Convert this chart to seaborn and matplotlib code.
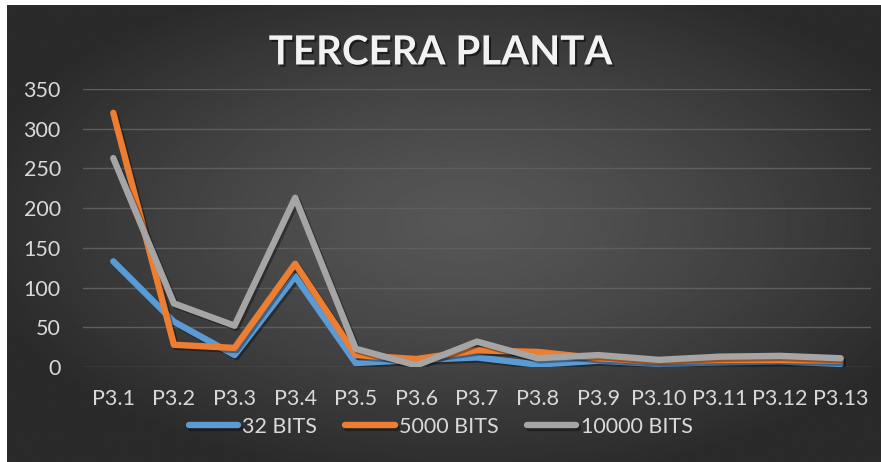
import numpy as np
import pandas as pd
import matplotlib
matplotlib.use("Agg")
import matplotlib.pyplot as plt
import matplotlib.patheffects as pe
import seaborn as sns

# datos
puntos = ['P3.1', 'P3.2', 'P3.3', 'P3.4', 'P3.5', 'P3.6', 'P3.7',
          'P3.8', 'P3.9', 'P3.10', 'P3.11', 'P3.12', 'P3.13']
bits_32 = [133, 57, 15, 114, 5, 9, 12, 3, 8, 4, 6, 7, 4]
bits_5000 = [320, 28, 24, 130, 15, 10, 21, 19, 11, 7, 9, 9, 8]
bits_10000 = [263, 80, 52, 213, 23, 2, 32, 11, 15, 9, 13, 14, 11]
series = ['32 BITS', '5000 BITS', '10000 BITS']
colores = ['#5B9BD5', '#ED7D31', '#A5A5A5']
yticks = [0, 50, 100, 150, 200, 250, 300, 350]

df = pd.DataFrame({
    'punto': puntos * 3,
    'valor': bits_32 + bits_5000 + bits_10000,
    'serie': [series[0]] * 13 + [series[1]] * 13 + [series[2]] * 13,
})

sns.set_style("dark")
plt.rcParams['font.family'] = ['Lato', 'DejaVu Sans']
texto = '#D9D9D9'

fig = plt.figure(figsize=(8.81, 4.62), dpi=100, facecolor='white')

# fondo con degradado radial
bg = fig.add_axes([7 / 881, 0, 1 - 7 / 881, 457 / 462])
yy, xx = np.mgrid[-1:1:300j, -1:1:600j]
r = np.sqrt((xx - 0.05) ** 2 + (yy + 0.05) ** 2)
r = np.clip(r / 1.15, 0, 1)
val = 0.34 - 0.175 * r ** 1.3
bg.imshow(val, cmap='gray', vmin=0, vmax=1, aspect='auto', extent=[0, 1, 0, 1])
bg.set_axis_off()

ax = fig.add_axes([83 / 881, 95 / 462, 788 / 881, 278 / 462])
ax.set_facecolor('none')

sns.lineplot(data=df, x='punto', y='valor', hue='serie', palette=colores,
             linewidth=4.6, sort=False, ax=ax, legend=True)
for ln in ax.get_lines():
    ln.set_solid_capstyle('round')
    ln.set_solid_joinstyle('round')
    ln.set_path_effects([pe.SimpleLineShadow(offset=(1.5, -1.5), shadow_color='black', alpha=0.35),
                         pe.Normal()])

ax.set_xlim(-0.5, 12.5)
ax.set_ylim(0, 350)
ax.set_yticks(yticks)
ax.yaxis.grid(True, color='#5E5E5E', linewidth=1.0)
ax.xaxis.grid(False)
ax.set_axisbelow(True)
for s in ax.spines.values():
    s.set_visible(False)
ax.tick_params(axis='both', length=0, labelsize=15.5, colors=texto)
ax.tick_params(axis='x', pad=16)
ax.tick_params(axis='y', pad=16)
ax.set_xlabel('')
ax.set_ylabel('')

handles, labels = ax.get_legend_handles_labels()
leg = ax.legend(handles, labels, loc='center', ncol=3, frameon=False,
                fontsize=15.5, labelcolor=texto, handlelength=2.3,
                handletextpad=0.2, columnspacing=1.3)
leg.set_bbox_to_anchor((0.5, 1 - 427 / 462), transform=fig.transFigure)
for h in leg.get_lines():
    h.set_linewidth(4.6)
    h.set_solid_capstyle('round')

fig.text(0.5, 1 - 53 / 462, 'TERCERA PLANTA', ha='center', va='center',
         fontsize=29, fontweight='bold', color='#F2F2F2',
         path_effects=[pe.withSimplePatchShadow(offset=(1.5, -1.5), shadow_rgbFace='black', alpha=0.5)])

fig.savefig('out.png', dpi=100, facecolor='white')
